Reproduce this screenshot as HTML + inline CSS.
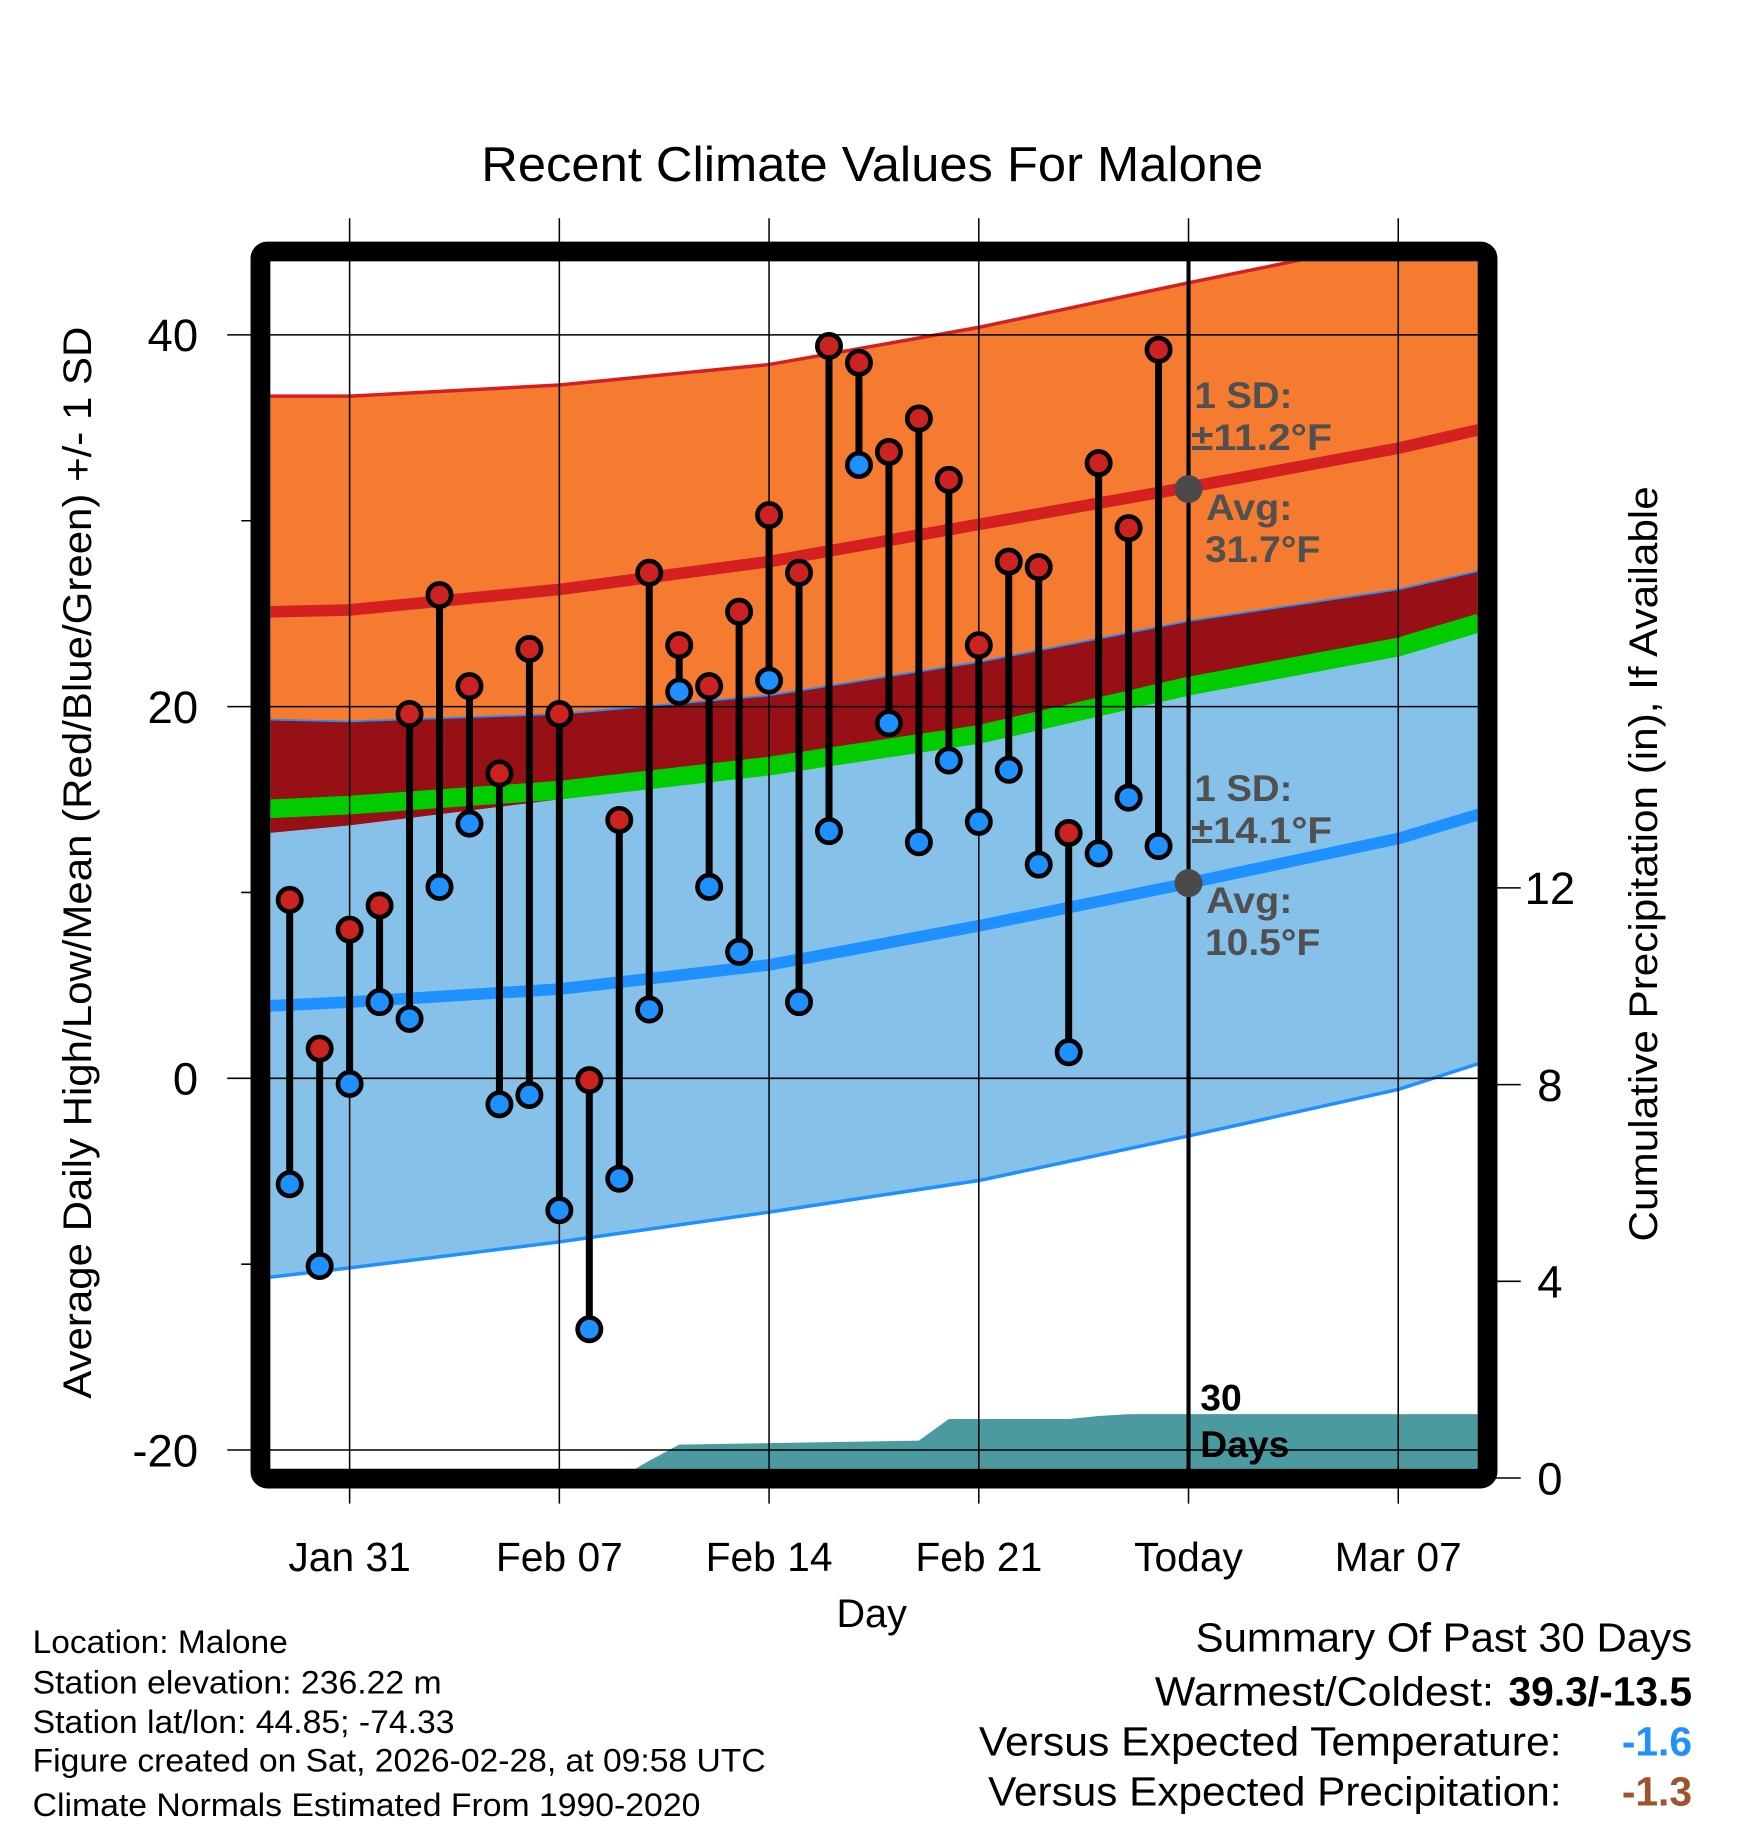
<!DOCTYPE html>
<html><head><meta charset="utf-8"><style>
html,body{margin:0;padding:0;background:#fff}
svg{display:block}
text{font-family:"Liberation Sans",Arial,sans-serif}
</style></head><body>
<svg id="chart" width="1748" height="1828" viewBox="0 0 1500 1568" xmlns="http://www.w3.org/2000/svg">
<defs><clipPath id="plotclip"><rect x="232" y="224" width="1036" height="1036"/></clipPath></defs>
<g id="plot" clip-path="url(#plotclip)"></g>
<g id="over"></g>
<text x="413" y="155" font-size="42" textLength="671" lengthAdjust="spacingAndGlyphs">Recent Climate Values For Malone</text>
<text x="748" y="1396" font-size="34" text-anchor="middle">Day</text>
<text transform="translate(78,1200) rotate(-90)" font-size="34" textLength="920" lengthAdjust="spacingAndGlyphs">Average Daily High/Low/Mean (Red/Blue/Green) +/- 1 SD</text>
<text transform="translate(1422,1065) rotate(-90)" font-size="34" textLength="648" lengthAdjust="spacingAndGlyphs">Cumulative Precipitation (in), If Available</text>
<g font-size="28">
<text x="28" y="1418" textLength="219" lengthAdjust="spacingAndGlyphs">Location: Malone</text>
<text x="28" y="1453" textLength="351" lengthAdjust="spacingAndGlyphs">Station elevation: 236.22 m</text>
<text x="28" y="1487" textLength="362" lengthAdjust="spacingAndGlyphs">Station lat/lon: 44.85; -74.33</text>
<text x="28" y="1520" textLength="629" lengthAdjust="spacingAndGlyphs">Figure created on Sat, 2026-02-28, at 09:58 UTC</text>
<text x="28" y="1558" textLength="573" lengthAdjust="spacingAndGlyphs">Climate Normals Estimated From 1990-2020</text>
</g>
<g font-size="35">
<text x="1026" y="1417" textLength="426" lengthAdjust="spacingAndGlyphs">Summary Of Past 30 Days</text>
<text x="991" y="1463" textLength="291" lengthAdjust="spacingAndGlyphs">Warmest/Coldest:</text>
<text x="1452" y="1463" font-weight="bold" text-anchor="end">39.3/-13.5</text>
<text x="840" y="1506" textLength="500" lengthAdjust="spacingAndGlyphs">Versus Expected Temperature:</text>
<text x="1452" y="1506" font-weight="bold" fill="#1e90ff" text-anchor="end">-1.6</text>
<text x="848" y="1549" textLength="492" lengthAdjust="spacingAndGlyphs">Versus Expected Precipitation:</text>
<text x="1452" y="1549" font-weight="bold" fill="#a0522d" text-anchor="end">-1.3</text>
</g>
</svg>
<script>
const highs=[9.6,1.6,8.0,9.3,19.6,26.0,21.1,16.4,23.1,19.6,-0.1,13.9,27.2,23.3,21.1,25.1,30.3,27.2,39.4,38.5,33.7,35.5,32.2,23.3,27.8,27.5,13.2,33.1,29.6,39.2];
const lows=[-5.7,-10.1,-0.3,4.1,3.2,10.3,13.7,-1.4,-0.9,-7.1,-13.5,-5.4,3.7,20.8,10.3,6.8,21.4,4.1,13.3,33.0,19.1,12.7,17.1,13.8,16.6,11.5,1.4,12.1,15.1,12.5];
const normDays=[-0.65,2,9,16,23,30,37,39.7];
const hiUpper=[36.7,36.7,37.3,38.4,40.4,42.8,45.1,46.1];
const hiAvg=[25.1,25.2,26.3,27.8,29.8,31.8,33.9,34.9];
const hiLower=[19.3,19.2,19.6,20.6,22.4,24.6,26.3,27.3];
const meanNorm=[14.5,14.7,15.5,16.8,18.5,21.1,23.2,24.5];
const loUpper=[13.2,13.6,15.0,16.3,18.0,20.6,22.7,24.0];
const loAvg=[3.9,4.1,4.8,6.1,8.2,10.5,12.9,14.2];
const loLower=[-10.7,-10.2,-8.8,-7.2,-5.5,-3.1,-0.6,0.8];
const precipDays=[-0.65,11,12,13,21,22,26,27,28,39.7];
const precip=[0,0,0.35,0.68,0.76,1.2,1.2,1.26,1.3,1.3];
const xTickDays=[2,9,16,23,30,37];
const xTickLabels=['Jan 31','Feb 07','Feb 14','Feb 21','Today','Mar 07'];
const yTicks=[40,20,0,-20];
const yMinor=[30,10,-10];
const y2Ticks=[0,4,8,12];

const NS='http://www.w3.org/2000/svg';
const X=d=>248.6+25.71*d;
const Y=v=>925-15.95*v;
const Y2=p=>1268-42.2*p;
const plot=document.getElementById('plot'),over=document.getElementById('over');
function mk(tag,attrs,parent){const e=document.createElementNS(NS,tag);for(const k in attrs)e.setAttribute(k,attrs[k]);parent.appendChild(e);return e;}
const pts=(arr,f)=>normDays.map((d,i)=>X(d)+','+f(arr[i]));
function band(top,bot,fill,name){
  const p=pts(top,Y).concat(pts(bot,Y).reverse());
  const e=mk('polygon',{points:p.join(' '),fill:fill},plot);
  
  
}
function line(arr,stroke,w,name){
  const e=mk('polyline',{points:pts(arr,Y).join(' '),fill:'none',stroke:stroke,'stroke-width':w,'stroke-linejoin':'round'},plot);
  
  
}
band(hiLower,loUpper,'#961016','mean-band');
band(loUpper,loLower,'#85c1e9','low-sd-band');
band(hiUpper,hiLower,'#f47b30','high-sd-band');
line(meanNorm,'#00cc00',16,'mean-normal-line');
line(hiUpper,'#d42020',3,'high-upper-line');
line(hiLower,'#1e90ff',1.5,'high-lower-line');
line(hiAvg,'#d42020',10,'high-avg-line');
line(loAvg,'#1e90ff',10,'low-avg-line');
line(loLower,'#1e90ff',3,'low-lower-line');
{
  const p=precipDays.map((d,i)=>X(d)+','+Y2(precip[i]));
  p.push(X(39.7)+','+1280,X(-0.65)+','+1280);
  const e=mk('polygon',{points:p.join(' '),fill:'#4a9aa0'},plot);
  
  
}
xTickDays.forEach(d=>{
  const e=mk('line',{x1:X(d),x2:X(d),y1:187,y2:1290,stroke:'#000','stroke-width':1.3},over);
  
  
});
yTicks.forEach(v=>{
  const e=mk('line',{x1:195,x2:1268,y1:Y(v),y2:Y(v),stroke:'#000','stroke-width':1.3},over);
  
  
  const t=mk('text',{x:170,y:Y(v)+14,'font-size':39,'text-anchor':'end'},over);
  t.textContent=v;
  
  
});
yMinor.forEach(v=>{
  const e=mk('line',{x1:207,x2:225,y1:Y(v),y2:Y(v),stroke:'#000','stroke-width':1.3},over);
  
  
});
y2Ticks.forEach(p=>{
  const e=mk('line',{x1:1275,x2:1305,y1:Y2(p),y2:Y2(p),stroke:'#000','stroke-width':1.3},over);
  
  
  const t=mk('text',{x:1330,y:Y2(p)+14,'font-size':39,'text-anchor':'middle'},over);
  t.textContent=p;
  
  
});
xTickDays.forEach((d,i)=>{
  const t=mk('text',{x:X(d),y:1348,'font-size':35,'text-anchor':'middle'},over);
  t.textContent=xTickLabels[i];
  
  
});
{
  const e=mk('line',{x1:X(30),x2:X(30),y1:210,y2:1262,stroke:'#000','stroke-width':3.5},over);
  
  
}
highs.forEach((h,i)=>{
  const s=mk('line',{x1:X(i),x2:X(i),y1:Y(h),y2:Y(lows[i]),stroke:'#000','stroke-width':6},over);
  
  
});
highs.forEach((h,i)=>{
  const a=mk('circle',{cx:X(i),cy:Y(h),r:10,fill:'#cc2222',stroke:'#000','stroke-width':4},over);
  
  
  const b=mk('circle',{cx:X(i),cy:Y(lows[i]),r:10,fill:'#1e90ff',stroke:'#000','stroke-width':4},over);
  
  
});
[31.7,10.5].forEach(v=>{
  const c=mk('circle',{cx:X(30),cy:Y(v),r:12,fill:'#4a4a4a'},over);
  
  
});
const ann=[[1025,350,'1 SD:',84],[1022,386,'±11.2°F',121],[1035,446,'Avg:',74],[1034,482,'31.7°F',99],[1025,687,'1 SD:',84],[1022,723,'±14.1°F',121],[1035,783,'Avg:',74],[1034,819,'10.5°F',99]];
ann.forEach(a=>{
  const t=mk('text',{x:a[0],y:a[1],'font-size':32,'font-weight':'bold',fill:'#505050',textLength:a[3],lengthAdjust:'spacingAndGlyphs'},over);
  t.textContent=a[2];
  
  
});
[[1030,1210,'30'],[1030,1250,'Days']].forEach(a=>{
  const t=mk('text',{x:a[0],y:a[1],'font-size':32,'font-weight':'bold',fill:'#000'},over);
  t.textContent=a[2];
  
  
});
{
  const f=mk('rect',{x:223.5,y:215.5,width:1053,height:1053,rx:6,fill:'none',stroke:'#000','stroke-width':17},over);
  
  
}
</script>
</body></html>
